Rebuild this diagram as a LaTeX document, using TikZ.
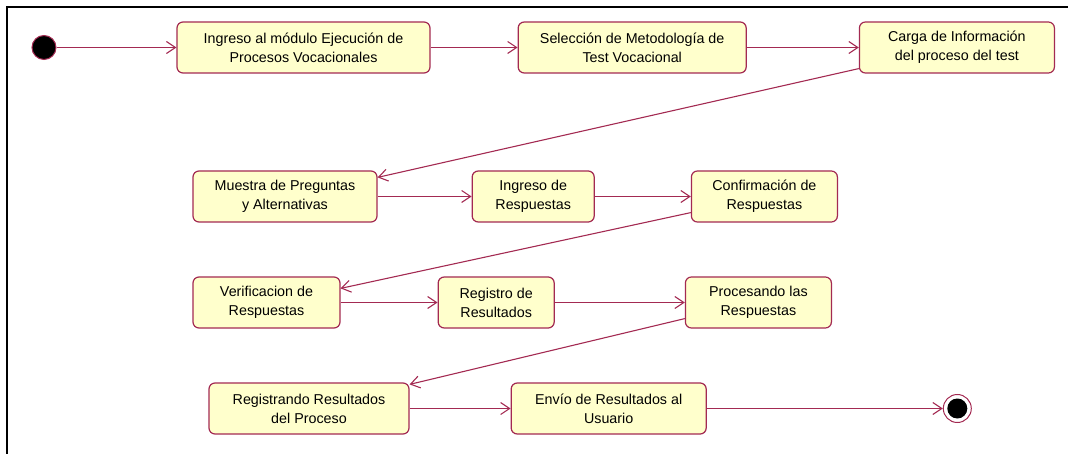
\documentclass[tikz,border=0pt]{standalone}
\usepackage{fontspec}
\setmainfont{Liberation Sans}
\usetikzlibrary{arrows.meta,positioning}
\definecolor{umlline}{HTML}{A32A52}
\definecolor{umlfill}{HTML}{FFFFCC}
\tikzset{act/.style={draw=umlline,line width=1.2pt,rounded corners=6pt,fill=umlfill,align=center,minimum height=51pt,inner xsep=2pt,font=\fontsize{14.3}{19}\selectfont},flow/.style={-{Straight Barb[length=9pt,width=12pt]},line width=1.1pt,draw=umlline}}

\begin{document}
\begin{tikzpicture}[x=1pt,y=-1pt]
\useasboundingbox (0,0) rectangle (1068,454);
\draw[line width=2pt] (7,454) -- (7,7) -- (1068,7);
\node[circle,fill=black,draw=umlline,line width=1pt,minimum size=24pt,inner sep=0pt] (inicio) at (44,47.5) {};
\node[act,minimum width=253pt] (ingreso) at (303.5,47.5) {Ingreso al módulo Ejecución de\\Procesos Vocacionales};
\node[act,minimum width=228pt,right=87pt of ingreso] (seleccion) {Selección de Metodología de\\Test Vocacional};
\node[act,minimum width=195pt,right=112pt of seleccion] (carga) {Carga de Información\\del proceso del test};
\node[act,minimum width=184pt] (muestra) at (285,196.5) {Muestra de Preguntas\\y Alternativas};
\node[act,minimum width=122pt,right=94pt of muestra] (respuestas) {Ingreso de\\Respuestas};
\node[act,minimum width=146pt,right=96pt of respuestas] (confirma) {Confirmación de\\Respuestas};
\node[act,minimum width=147pt] (verifica) at (266.5,302.5) {Verificacion de\\Respuestas};
\node[act,minimum width=116pt,right=97pt of verifica] (registro) {Registro de\\Resultados};
\node[act,minimum width=146pt,right=130pt of registro] (procesa) {Procesando las\\Respuestas};
\node[act,minimum width=200pt] (registra) at (309,408.5) {Registrando Resultados\\del Proceso};
\node[act,minimum width=195pt,right=101pt of registra] (envio) {Envío de Resultados al\\Usuario};
\node[circle,draw=umlline,line width=1pt,minimum size=28pt,inner sep=0pt,right=236pt of envio,
  path picture={\fill (path picture bounding box.center) circle (10pt);}] (fin) {};
\draw[flow] (inicio) -- (ingreso);
\draw[flow] (ingreso) -- (seleccion);
\draw[flow] (seleccion) -- (carga);
\draw[flow] ([yshift=5pt]carga.south west) -- ([yshift=-7pt]muestra.north east);
\draw[flow] (muestra) -- (respuestas);
\draw[flow] (respuestas) -- (confirma);
\draw[flow] ([yshift=10pt]confirma.south west) -- ([yshift=-12pt]verifica.north east);
\draw[flow] (verifica) -- (registro);
\draw[flow] (registro) -- (procesa);
\draw[flow] ([yshift=10pt]procesa.south west) -- ([yshift=-2pt]registra.north east);
\draw[flow] (registra) -- (envio);
\draw[flow] (envio) -- (fin);
\end{tikzpicture}
\end{document}
